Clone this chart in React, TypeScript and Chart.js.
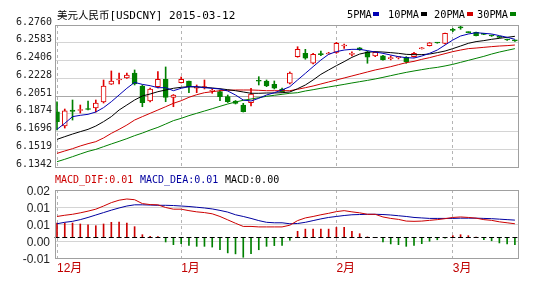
import React, { useEffect, useRef } from "react";
import { Chart, registerables } from "chart.js";

Chart.register(...registerables);

// ---------------- data ----------------
const TITLE_CJK = "美元人民币";
const TITLE_REST = "[USDCNY] 2015-03-12";
const MA_LEGEND_LABELS = ["5PMA", "10PMA", "20PMA", "30PMA"];
const MACD_LEGEND_TEXTS = ["MACD_DIF:0.01", "MACD_DEA:0.01", "MACD:0.00"];

const MONTH_LABELS = ["12月", "1月", "2月", "3月"];
const MONTH_START_INDEX = [0, 16, 36, 51];

const PRICE_TICK_LABELS = ["6.2760", "6.2583", "6.2406", "6.2228", "6.2051", "6.1874", "6.1696", "6.1519", "6.1342"];
const MACD_TICK_VALUES = [0.0195, 0.0125, 0.0055, -0.0015, -0.0085];
const MACD_TICK_LABELS = ["0.02", "0.01", "0.01", "0.00", "-0.01"];

const OPEN = [
  6.1894, 6.1752, 6.1911, 6.1906, 6.1926, 6.1931, 6.1991, 6.2168, 6.2211, 6.2231,
  6.2281, 6.2151, 6.2001, 6.2144, 6.2218, 6.2038, 6.2184, 6.2201, 6.2128, 6.2131,
  6.2098, 6.2094, 6.2044, 6.2001, 6.1961, 6.1984, 6.2204, 6.2201, 6.2168, 6.2121,
  6.2178, 6.2444, 6.2477, 6.2378, 6.2470, 6.2470, 6.2487, 6.2550, 6.2467, 6.2533,
  6.2493, 6.2451, 6.2451, 6.2424, 6.2434, 6.2438, 6.2444, 6.2523, 6.2553, 6.2585,
  6.2577, 6.2713, 6.2735, 6.2690, 6.2687, 6.2670, 6.2655, 6.2640, 6.2615, 6.2605,
];
const HIGH = [
  6.1994, 6.1921, 6.2011, 6.1961, 6.2001, 6.2011, 6.2211, 6.2301, 6.2281, 6.2281,
  6.2311, 6.2161, 6.2131, 6.2294, 6.2341, 6.2066, 6.2241, 6.2201, 6.2161, 6.2211,
  6.2121, 6.2111, 6.2061, 6.2006, 6.1978, 6.2128, 6.2244, 6.2211, 6.2201, 6.2131,
  6.2291, 6.2543, 6.2517, 6.2477, 6.2500, 6.2487, 6.2587, 6.2570, 6.2493, 6.2535,
  6.2500, 6.2493, 6.2456, 6.2451, 6.2446, 6.2444, 6.2487, 6.2535, 6.2585, 6.2587,
  6.2680, 6.2727, 6.2750, 6.2692, 6.2690, 6.2674, 6.2660, 6.2645, 6.2620, 6.2610,
];
const LOW = [
  6.1712, 6.1731, 6.1811, 6.1881, 6.1911, 6.1891, 6.1981, 6.2166, 6.2171, 6.2226,
  6.2161, 6.1944, 6.1991, 6.2131, 6.1994, 6.1944, 6.2181, 6.2084, 6.2084, 6.2121,
  6.2078, 6.2004, 6.1986, 6.1971, 6.1891, 6.1951, 6.2161, 6.2144, 6.2121, 6.2091,
  6.2171, 6.2438, 6.2418, 6.2371, 6.2454, 6.2467, 6.2477, 6.2527, 6.2451, 6.2507,
  6.2378, 6.2444, 6.2408, 6.2411, 6.2421, 6.2378, 6.2438, 6.2520, 6.2550, 6.2578,
  6.2570, 6.2693, 6.2717, 6.2682, 6.2650, 6.2664, 6.2646, 6.2632, 6.2605, 6.2596,
];
const CLOSE = [
  6.1794, 6.1904, 6.1896, 6.1916, 6.1916, 6.1981, 6.2151, 6.2201, 6.2218, 6.2261,
  6.2171, 6.1984, 6.2121, 6.2218, 6.2038, 6.2061, 6.2218, 6.2144, 6.2134, 6.2144,
  6.2104, 6.2044, 6.1994, 6.1978, 6.1894, 6.2071, 6.2198, 6.2151, 6.2128, 6.2094,
  6.2281, 6.2517, 6.2428, 6.2467, 6.2464, 6.2480, 6.2577, 6.2557, 6.2473, 6.2510,
  6.2438, 6.2487, 6.2411, 6.2430, 6.2438, 6.2394, 6.2477, 6.2530, 6.2583, 6.2580,
  6.2677, 6.2707, 6.2731, 6.2684, 6.2653, 6.2667, 6.2650, 6.2636, 6.2610, 6.2601,
];

const MA5 = [
  6.1718, 6.1778, 6.1845, 6.1858, 6.1868, 6.1891, 6.1935, 6.1994, 6.2061, 6.2128,
  6.2187, 6.2167, 6.2154, 6.2134, 6.2134, 6.2104, 6.2128, 6.2144, 6.2144, 6.2134,
  6.2128, 6.2121, 6.2101, 6.2061, 6.2011, 6.2001, 6.2028, 6.2061, 6.2084, 6.2111,
  6.2144, 6.2211, 6.2277, 6.2344, 6.2410, 6.2467, 6.2494, 6.2510, 6.2517, 6.2517,
  6.2504, 6.2490, 6.2477, 6.2460, 6.2444, 6.2434, 6.2430, 6.2450, 6.2477, 6.2510,
  6.2560, 6.2610, 6.2650, 6.2670, 6.2683, 6.2677, 6.2670, 6.2654, 6.2637, 6.2617,
];
const MA10 = [
  6.1618, 6.1645, 6.1671, 6.1695, 6.1718, 6.1751, 6.1795, 6.1845, 6.1911, 6.1961,
  6.2011, 6.2051, 6.2071, 6.2094, 6.2111, 6.2128, 6.2138, 6.2144, 6.2141, 6.2138,
  6.2131, 6.2124, 6.2114, 6.2104, 6.2091, 6.2078, 6.2078, 6.2081, 6.2081, 6.2084,
  6.2091, 6.2124, 6.2161, 6.2211, 6.2267, 6.2311, 6.2354, 6.2394, 6.2437, 6.2470,
  6.2487, 6.2494, 6.2490, 6.2484, 6.2477, 6.2467, 6.2464, 6.2464, 6.2470, 6.2484,
  6.2500, 6.2524, 6.2550, 6.2577, 6.2594, 6.2604, 6.2617, 6.2627, 6.2637, 6.2647,
];
const MA20 = [
  6.1478, 6.1502, 6.1525, 6.1552, 6.1575, 6.1595, 6.1632, 6.1678, 6.1718, 6.1761,
  6.1811, 6.1845, 6.1878, 6.1911, 6.1944, 6.1978, 6.2004, 6.2038, 6.2064, 6.2084,
  6.2094, 6.2104, 6.2108, 6.2111, 6.2111, 6.2111, 6.2108, 6.2104, 6.2104, 6.2104,
  6.2104, 6.2118, 6.2134, 6.2151, 6.2171, 6.2191, 6.2211, 6.2231, 6.2251, 6.2271,
  6.2291, 6.2311, 6.2327, 6.2344, 6.2364, 6.2384, 6.2397, 6.2417, 6.2434, 6.2454,
  6.2474, 6.2494, 6.2510, 6.2524, 6.2530, 6.2537, 6.2544, 6.2550, 6.2554, 6.2560,
];
const MA30 = [
  6.1395, 6.1419, 6.1445, 6.1472, 6.1498, 6.1518, 6.1545, 6.1572, 6.1598, 6.1625,
  6.1655, 6.1681, 6.1711, 6.1738, 6.1771, 6.1805, 6.1828, 6.1855, 6.1878, 6.1901,
  6.1924, 6.1948, 6.1971, 6.1991, 6.2008, 6.2021, 6.2034, 6.2048, 6.2058, 6.2068,
  6.2078, 6.2084, 6.2101, 6.2114, 6.2128, 6.2141, 6.2154, 6.2167, 6.2181, 6.2194,
  6.2207, 6.2221, 6.2237, 6.2254, 6.2271, 6.2287, 6.2301, 6.2314, 6.2327, 6.2337,
  6.2351, 6.2367, 6.2387, 6.2407, 6.2427, 6.2447, 6.2470, 6.2490, 6.2507, 6.2524,
];

const DIF = [
  0.0086, 0.0091, 0.0095, 0.0101, 0.0108, 0.0116, 0.0129, 0.0143, 0.0153, 0.0158,
  0.0155, 0.0139, 0.0135, 0.0134, 0.0123, 0.0116, 0.0116, 0.0110, 0.0105, 0.0102,
  0.0097, 0.0086, 0.0072, 0.0058, 0.0045, 0.0045, 0.0043, 0.0043, 0.0043, 0.0043,
  0.0050, 0.0069, 0.0080, 0.0086, 0.0093, 0.0099, 0.0106, 0.0110, 0.0105, 0.0101,
  0.0095, 0.0095, 0.0084, 0.0078, 0.0074, 0.0067, 0.0066, 0.0067, 0.0070, 0.0073,
  0.0077, 0.0082, 0.0084, 0.0082, 0.0079, 0.0073, 0.0070, 0.0064, 0.0060, 0.0056,
];
const DEA = [
  0.0056, 0.0062, 0.0066, 0.0073, 0.0082, 0.0092, 0.0102, 0.0112, 0.0121, 0.0129,
  0.0134, 0.0134, 0.0133, 0.0132, 0.0132, 0.0131, 0.0129, 0.0127, 0.0124, 0.0121,
  0.0117, 0.0111, 0.0104, 0.0093, 0.0086, 0.0078, 0.0069, 0.0062, 0.0060, 0.0060,
  0.0056, 0.0057, 0.0062, 0.0069, 0.0076, 0.0082, 0.0086, 0.0090, 0.0093, 0.0094,
  0.0095, 0.0095, 0.0094, 0.0092, 0.0089, 0.0086, 0.0082, 0.0080, 0.0078, 0.0078,
  0.0078, 0.0078, 0.0079, 0.0079, 0.0079, 0.0078, 0.0077, 0.0075, 0.0073, 0.0071,
];
const MACD_HIST = [
  0.0059, 0.0059, 0.0059, 0.0055, 0.0052, 0.0048, 0.0055, 0.0062, 0.0063, 0.0059,
  0.0044, 0.0011, 0.0004, 0.0003, -0.0019, -0.0030, -0.0026, -0.0033, -0.0037, -0.0037,
  -0.0040, -0.0051, -0.0064, -0.0068, -0.0082, -0.0067, -0.0051, -0.0037, -0.0034, -0.0033,
  -0.0012, 0.0025, 0.0034, 0.0034, 0.0034, 0.0034, 0.0041, 0.0041, 0.0025, 0.0015,
  0.0002, -0.0001, -0.0019, -0.0027, -0.0030, -0.0037, -0.0033, -0.0026, -0.0016, -0.0010,
  -0.0003, 0.0007, 0.0011, 0.0007, 0.0001, -0.0010, -0.0014, -0.0023, -0.0027, -0.0030,
];

// ---------------- style ----------------
const UP_RED = "#e00000";
const DOWN_GREEN = "#008000";
const MA_COLORS = ["#0000b4", "#000000", "#d00000", "#008000"];
const DIF_COLOR = "#cc0000";
const DEA_COLOR = "#0000a0";
const GRID = "#d4d4d4";
const GRID_MID = "#a8a8a8";
const FRAME = "#a0a0a0";
const MONTH_LINE = "#b4b4b4";
const MONO = '"DejaVu Sans Mono", "Liberation Mono", monospace';
const SANS = '"Liberation Sans", Arial, "Noto Sans CJK SC", sans-serif';

const X_MIN = -0.258;
const X_MAX = 59.4;

const PRICE_TICKS = PRICE_TICK_LABELS.map(Number);

const pts = (arr: number[]) => arr.map((v, i) => ({ x: i, y: v }));
const isUp = (i: number) => CLOSE[i] >= OPEN[i];

const framePlugin = {
  id: "frame",
  afterDraw(chart: any) {
    const { ctx, chartArea } = chart;
    const { left, top, right, bottom } = chartArea;
    ctx.save();
    ctx.strokeStyle = FRAME;
    ctx.lineWidth = 1;
    ctx.strokeRect(Math.round(left) + 0.5, Math.round(top) + 0.5, Math.round(right - left), Math.round(bottom - top));
    ctx.restore();
  },
};

const zeroDashPlugin = {
  id: "zeroDash",
  afterDatasetsDraw(chart: any) {
    const { ctx, scales } = chart;
    const xs = scales.x;
    const ys = scales.y;
    const y = Math.round(ys.getPixelForValue(0)) + 0.5;
    ctx.save();
    ctx.strokeStyle = "#000";
    ctx.lineWidth = 1;
    ctx.beginPath();
    MACD_HIST.forEach((_, i) => {
      const x = xs.getPixelForValue(i);
      ctx.moveTo(x - 2.5, y);
      ctx.lineTo(x + 2.5, y);
    });
    ctx.stroke();
    ctx.restore();
  },
};

const xAxisBase = (showLabels: boolean, height: number) => ({
  type: "linear" as const,
  min: X_MIN,
  max: X_MAX,
  offset: false,
  afterBuildTicks: (s: any) => {
    s.ticks = MONTH_START_INDEX.map((v) => ({ value: v }));
  },
  afterFit: (s: any) => {
    s.height = height;
  },
  grid: { color: MONTH_LINE, drawTicks: false, offset: false, lineWidth: 1 },
  border: { display: false, dash: [3, 3] },
  ticks: {
    display: showLabels,
    autoSkip: false,
    maxRotation: 0,
    minRotation: 0,
    align: "start" as const,
    padding: 3,
    color: "#c00000",
    font: { family: SANS, size: 12 },
    callback: (v: any) => {
      const k = MONTH_START_INDEX.indexOf(Math.round(Number(v)));
      return k >= 0 ? MONTH_LABELS[k] : "";
    },
  },
});

export default function App() {
  const mainRef = useRef<HTMLCanvasElement | null>(null);
  const macdRef = useRef<HTMLCanvasElement | null>(null);

  useEffect(() => {
    document.body.style.margin = "0";

    const main = new Chart(mainRef.current as HTMLCanvasElement, {
      type: "bar",
      data: {
        datasets: [
          ...[MA5, MA10, MA20, MA30].map((arr, k) => ({
            type: "line" as const,
            label: MA_LEGEND_LABELS[k],
            data: pts(arr),
            borderColor: MA_COLORS[k],
            borderWidth: 1,
            pointRadius: 0,
            tension: 0,
            order: 0,
          })),
          {
            type: "bar" as const,
            label: "body",
            data: OPEN.map((o, i) => ({ x: i, y: [o, CLOSE[i]] })),
            backgroundColor: (c: any) => (isUp(c.dataIndex) ? "#ffffff" : DOWN_GREEN),
            borderColor: (c: any) => (isUp(c.dataIndex) ? UP_RED : DOWN_GREEN),
            borderWidth: 1,
            borderSkipped: false,
            barThickness: 5,
            minBarLength: 1,
            grouped: false,
            order: 1,
          },
          {
            type: "bar" as const,
            label: "wick",
            data: LOW.map((l, i) => ({ x: i, y: [l, HIGH[i]] })),
            backgroundColor: (c: any) => (isUp(c.dataIndex) ? UP_RED : DOWN_GREEN),
            borderWidth: 0,
            barThickness: 1,
            grouped: false,
            order: 2,
          },
        ],
      } as any,
      options: {
        responsive: false,
        animation: false,
        events: [],
        layout: { padding: { left: 0, top: 25, right: 24, bottom: 115 } },
        plugins: { legend: { display: false }, tooltip: { enabled: false }, title: { display: false } },
        scales: {
          x: xAxisBase(false, 0),
          y: {
            type: "linear",
            min: PRICE_TICKS[PRICE_TICKS.length - 1],
            max: PRICE_TICKS[0],
            afterBuildTicks: (s: any) => {
              s.ticks = PRICE_TICKS.map((v) => ({ value: v }));
            },
            afterFit: (s: any) => {
              s.width = 55;
            },
            grid: {
              drawTicks: false,
              color: (c: any) => (c.tick && Math.abs(c.tick.value - 6.2051) < 1e-6 ? GRID_MID : GRID),
            },
            border: { display: false },
            ticks: {
              autoSkip: false,
              padding: 3,
              labelOffset: -3,
              color: "#222",
              font: { family: MONO, size: 10 },
              callback: (v: any) => {
                const k = PRICE_TICKS.findIndex((t) => Math.abs(t - Number(v)) < 1e-6);
                return k >= 0 ? PRICE_TICK_LABELS[k] : "";
              },
            },
          },
        },
      } as any,
      plugins: [framePlugin],
    });

    const macd = new Chart(macdRef.current as HTMLCanvasElement, {
      type: "bar",
      data: {
        datasets: [
          {
            type: "line" as const,
            label: "DIF",
            data: pts(DIF),
            borderColor: DIF_COLOR,
            borderWidth: 1,
            pointRadius: 0,
            tension: 0,
            order: 0,
          },
          {
            type: "line" as const,
            label: "DEA",
            data: pts(DEA),
            borderColor: DEA_COLOR,
            borderWidth: 1,
            pointRadius: 0,
            tension: 0,
            order: 0,
          },
          {
            type: "bar" as const,
            label: "MACD",
            data: pts(MACD_HIST),
            backgroundColor: (c: any) => (MACD_HIST[c.dataIndex] >= 0 ? "#cc0000" : DOWN_GREEN),
            borderWidth: 0,
            barThickness: 1,
            grouped: false,
            order: 1,
          },
        ],
      } as any,
      options: {
        responsive: false,
        animation: false,
        events: [],
        layout: { padding: { left: 0, top: 190, right: 24, bottom: 0 } },
        plugins: { legend: { display: false }, tooltip: { enabled: false }, title: { display: false } },
        scales: {
          x: xAxisBase(true, 24),
          y: {
            type: "linear",
            min: MACD_TICK_VALUES[MACD_TICK_VALUES.length - 1],
            max: MACD_TICK_VALUES[0],
            afterBuildTicks: (s: any) => {
              s.ticks = MACD_TICK_VALUES.map((v) => ({ value: v }));
            },
            afterFit: (s: any) => {
              s.width = 55;
            },
            grid: { drawTicks: false, color: GRID },
            border: { display: false },
            ticks: {
              autoSkip: false,
              padding: 5,
              labelOffset: 2,
              color: "#222",
              font: { family: SANS, size: 12 },
              callback: (v: any) => {
                const k = MACD_TICK_VALUES.findIndex((t) => Math.abs(t - Number(v)) < 1e-7);
                return k >= 0 ? MACD_TICK_LABELS[k] : "";
              },
            },
          },
        },
      } as any,
      plugins: [framePlugin, zeroDashPlugin],
    });

    return () => {
      main.destroy();
      macd.destroy();
    };
  }, []);

  const legendX = [347, 388, 434, 477];
  const macdLegendX = [55, 140, 225];
  const macdLegendColors = [DIF_COLOR, DEA_COLOR, "#000"];

  return (
    <div style={{ position: "relative", width: 542, height: 282, background: "#fff", overflow: "hidden" }}>
      <canvas ref={mainRef} width={542} height={282} style={{ position: "absolute", left: 0, top: 0, width: 542, height: 282 }} />
      <canvas ref={macdRef} width={542} height={282} style={{ position: "absolute", left: 0, top: 0, width: 542, height: 282 }} />
      <div style={{ position: "absolute", left: 57, top: 7, height: 14, lineHeight: "14px", whiteSpace: "nowrap", color: "#000" }}>
        <span style={{ fontFamily: '"Noto Sans CJK SC", sans-serif', fontSize: 10.5 }}>{TITLE_CJK}</span>
        <span style={{ fontFamily: MONO, fontSize: 11 }}>{TITLE_REST}</span>
      </div>
      {MA_LEGEND_LABELS.map((lab, k) => (
        <div
          key={lab}
          style={{ position: "absolute", left: legendX[k], top: 7, height: 14, lineHeight: "14px", whiteSpace: "nowrap", fontFamily: MONO, fontSize: 10.3, color: "#000", display: "flex", alignItems: "center" }}
        >
          <span>{lab}</span>
          <span style={{ display: "inline-block", width: 6, height: 4, marginLeft: 1.5, background: MA_COLORS[k] }} />
        </div>
      ))}
      {MACD_LEGEND_TEXTS.map((t, k) => (
        <div
          key={t}
          style={{ position: "absolute", left: macdLegendX[k], top: 173, height: 14, lineHeight: "14px", whiteSpace: "nowrap", fontFamily: MONO, fontSize: 10, color: macdLegendColors[k] }}
        >
          {t}
        </div>
      ))}
    </div>
  );
}
